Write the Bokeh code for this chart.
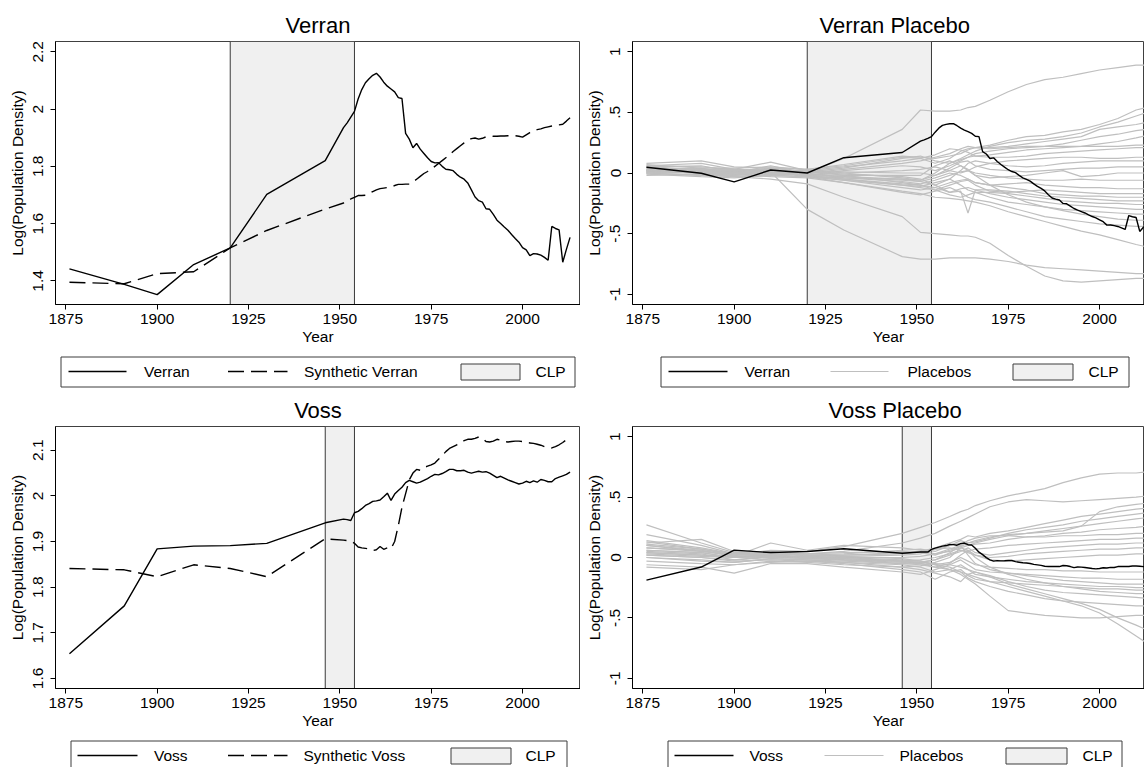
from bokeh.plotting import figure
from bokeh.models import Range1d, FixedTicker, BoxAnnotation
from bokeh.layouts import row, column
from bokeh.embed import file_html
from bokeh.resources import INLINE
from bokeh.core.properties import value

FONT = "Liberation Sans"

# ---------------------------------------------------------------- data
YEARS = [1876, 1891, 1900, 1910, 1920, 1930, 1946,
         1951, 1952, 1953, 1954, 1955, 1956, 1957, 1958, 1959, 1960,
         1961, 1962, 1963, 1964, 1965, 1966, 1967, 1968, 1969, 1970,
         1971, 1972, 1973, 1974, 1975, 1976, 1977, 1978, 1979, 1980,
         1981, 1982, 1983, 1984, 1985, 1986, 1987, 1988, 1989, 1990,
         1991, 1992, 1993, 1994, 1995, 1996, 1997, 1998, 1999, 2000,
         2001, 2002, 2003, 2004, 2005, 2006, 2007, 2008, 2009, 2010,
         2011, 2012, 2013]

VERRAN = [1.442, 1.388, 1.352, 1.457, 1.515, 1.702, 1.820,
          1.935, 1.952, 1.972, 1.992, 2.035, 2.068, 2.092, 2.106, 2.118, 2.125,
          2.112, 2.094, 2.080, 2.070, 2.060, 2.040, 2.037, 1.915, 1.895, 1.865,
          1.880, 1.860, 1.845, 1.830, 1.817, 1.812, 1.813, 1.800, 1.790, 1.788,
          1.785, 1.772, 1.762, 1.755, 1.742, 1.718, 1.693, 1.680, 1.675, 1.652,
          1.650, 1.632, 1.612, 1.600, 1.588, 1.577, 1.562, 1.548, 1.535, 1.516,
          1.508, 1.488, 1.495, 1.494, 1.490, 1.482, 1.472, 1.590, 1.583, 1.578,
          1.465, 1.510, 1.552]

SYN_VERRAN = [1.395, 1.390, 1.425, 1.432, 1.515, 1.576, 1.651,
              1.672, 1.678, 1.686, 1.692, 1.698, 1.698, 1.699, 1.705, 1.712, 1.718,
              1.722, 1.724, 1.726, 1.728, 1.733, 1.737, 1.737, 1.738, 1.738, 1.745,
              1.755, 1.765, 1.775, 1.782, 1.790, 1.800, 1.810, 1.820, 1.830, 1.840,
              1.852, 1.862, 1.872, 1.882, 1.890, 1.897, 1.899, 1.895, 1.898, 1.903,
              1.904, 1.905, 1.905, 1.906, 1.906, 1.907, 1.907, 1.907, 1.905, 1.902,
              1.910, 1.918, 1.924, 1.928, 1.931, 1.935, 1.938, 1.941, 1.944, 1.945,
              1.947, 1.958, 1.970]

VOSS = [1.654, 1.759, 1.884, 1.890, 1.891, 1.896, 1.941,
        1.949, 1.948, 1.946, 1.963, 1.966, 1.972, 1.979, 1.983, 1.988, 1.989,
        1.991, 1.998, 2.006, 1.990, 2.004, 2.012, 2.019, 2.029, 2.034, 2.031,
        2.028, 2.030, 2.034, 2.038, 2.043, 2.047, 2.046, 2.049, 2.053, 2.058,
        2.058, 2.055, 2.055, 2.056, 2.052, 2.050, 2.052, 2.054, 2.052, 2.053,
        2.050, 2.045, 2.040, 2.043, 2.039, 2.035, 2.032, 2.029, 2.026, 2.028,
        2.032, 2.029, 2.033, 2.030, 2.036, 2.034, 2.031, 2.031, 2.038, 2.041,
        2.044, 2.047, 2.052]

SYN_VOSS = [1.841, 1.838, 1.823, 1.849, 1.841, 1.823, 1.906,
            1.903, 1.902, 1.901, 1.896, 1.888, 1.886, 1.885, 1.884, 1.880, 1.882,
            1.889, 1.883, 1.886, 1.884, 1.900, 1.935, 1.975, 2.005, 2.035, 2.050,
            2.058, 2.056, 2.062, 2.065, 2.068, 2.072, 2.080, 2.088, 2.097, 2.104,
            2.108, 2.112, 2.116, 2.121, 2.124, 2.124, 2.126, 2.129, 2.127, 2.119,
            2.118, 2.120, 2.124, 2.122, 2.119, 2.118, 2.119, 2.120, 2.120, 2.119,
            2.117, 2.116, 2.115, 2.113, 2.111, 2.108, 2.106, 2.105, 2.108, 2.112,
            2.117, 2.123, 2.126]

# treated-minus-synthetic gaps shown in the placebo panels
VERRAN_GAP = [a - s for a, s in zip(VERRAN, SYN_VERRAN)]
VOSS_GAP = [a - s for a, s in zip(VOSS, SYN_VOSS)]

VERRAN_CLP = (1920, 1954)
VOSS_CLP = (1946, 1954)

# years at which the placebo gaps are recorded
PLACEBO_YEARS = [1876, 1891, 1900, 1910, 1920, 1930, 1946, 1951, 1955, 1959,
                 1962, 1964, 1966, 1970, 1975, 1980, 1985, 1990, 1995, 2000,
                 2005, 2010, 2013]

VERRAN_PLACEBOS = [
    [0.03, 0.02, 0.01, 0.03, 0.00, 0.12, 0.36, 0.52, 0.51, 0.51, 0.52, 0.54, 0.55, 0.60, 0.67, 0.73, 0.77, 0.79, 0.82, 0.85, 0.87, 0.89, 0.89],
    [0.02, 0.00, -0.02, 0.01, -0.30, -0.47, -0.69, -0.71, -0.71, -0.70, -0.70, -0.70, -0.70, -0.71, -0.73, -0.76, -0.78, -0.79, -0.80, -0.81, -0.82, -0.83, -0.83],
    [0.00, -0.02, -0.03, -0.05, -0.09, -0.20, -0.36, -0.49, -0.50, -0.51, -0.52, -0.52, -0.53, -0.58, -0.68, -0.77, -0.85, -0.89, -0.90, -0.89, -0.88, -0.87, -0.87],
    [0.01, 0.03, -0.01, 0.02, -0.03, -0.08, -0.15, -0.17, -0.20, -0.21, -0.22, -0.23, -0.24, -0.27, -0.32, -0.36, -0.40, -0.44, -0.48, -0.51, -0.55, -0.59, -0.61],
    [0.06, 0.05, 0.03, 0.02, 0.02, 0.05, 0.10, 0.12, 0.08, 0.12, 0.18, 0.20, 0.21, 0.23, 0.27, 0.30, 0.31, 0.34, 0.36, 0.40, 0.45, 0.52, 0.54],
    [0.04, 0.03, 0.02, 0.04, 0.01, 0.04, 0.12, 0.14, 0.10, 0.08, 0.12, 0.15, 0.18, 0.22, 0.25, 0.27, 0.28, 0.30, 0.33, 0.38, 0.42, 0.47, 0.50],
    [0.02, 0.04, 0.00, 0.06, 0.00, 0.03, 0.08, 0.10, 0.13, 0.16, 0.20, 0.22, 0.21, 0.21, 0.22, 0.24, 0.26, 0.28, 0.30, 0.36, 0.38, 0.40, 0.42],
    [0.05, 0.06, 0.01, 0.03, -0.02, 0.02, 0.06, 0.05, 0.02, 0.06, 0.10, 0.13, 0.16, 0.18, 0.20, 0.21, 0.22, 0.24, 0.27, 0.30, 0.32, 0.35, 0.36],
    [0.00, 0.02, 0.03, 0.00, 0.03, 0.06, 0.13, 0.12, 0.15, 0.20, 0.19, 0.17, 0.14, 0.15, 0.17, 0.19, 0.20, 0.21, 0.22, 0.24, 0.26, 0.29, 0.31],
    [0.07, 0.04, 0.04, 0.05, 0.03, 0.07, 0.14, 0.13, 0.12, 0.14, 0.16, 0.19, 0.21, 0.20, 0.21, 0.22, 0.22, 0.22, 0.22, 0.22, 0.22, 0.23, 0.23],
    [0.01, 0.00, -0.02, 0.02, -0.03, -0.04, -0.05, -0.06, 0.00, 0.08, 0.11, 0.13, 0.14, 0.13, 0.13, 0.14, 0.16, 0.17, 0.18, 0.19, 0.20, 0.21, 0.21],
    [0.03, 0.01, 0.02, 0.01, 0.00, 0.00, 0.02, 0.03, 0.05, 0.02, 0.00, 0.02, 0.05, 0.08, 0.10, 0.11, 0.12, 0.13, 0.13, 0.12, 0.12, 0.13, 0.13],
    [-0.02, -0.01, -0.03, -0.01, -0.02, -0.03, -0.05, -0.07, -0.10, -0.05, 0.02, 0.08, 0.10, 0.08, 0.06, 0.05, 0.06, 0.08, 0.09, 0.10, 0.10, 0.10, 0.10],
    [0.04, 0.03, 0.00, 0.02, 0.01, 0.01, 0.00, 0.00, -0.02, 0.04, 0.09, 0.10, 0.06, 0.03, 0.02, 0.01, 0.02, 0.03, 0.04, 0.04, 0.05, 0.05, 0.05],
    [0.02, 0.00, 0.01, -0.01, -0.01, -0.02, -0.02, -0.02, 0.06, 0.10, 0.06, 0.02, -0.02, -0.04, -0.03, -0.02, 0.00, 0.02, -0.03, -0.02, 0.00, 0.00, 0.00],
    [0.00, -0.02, -0.02, 0.00, 0.00, -0.04, -0.07, -0.09, -0.06, -0.02, 0.01, 0.02, 0.00, -0.02, -0.04, -0.05, -0.06, -0.06, -0.05, -0.06, -0.06, -0.06, -0.06],
    [0.03, 0.00, -0.01, 0.00, -0.02, -0.05, -0.09, -0.10, -0.12, -0.08, -0.06, -0.05, -0.08, -0.10, -0.09, -0.08, -0.10, -0.11, -0.12, -0.12, -0.13, -0.13, -0.13],
    [-0.01, -0.03, -0.04, -0.02, -0.03, -0.06, -0.10, -0.12, -0.14, -0.10, -0.07, -0.06, -0.10, -0.15, -0.16, -0.15, -0.14, -0.15, -0.16, -0.17, -0.17, -0.17, -0.17],
    [0.01, 0.02, -0.01, 0.01, -0.01, -0.03, -0.06, -0.07, -0.04, 0.00, -0.02, -0.05, -0.08, -0.10, -0.12, -0.14, -0.17, -0.18, -0.19, -0.19, -0.20, -0.20, -0.20],
    [0.05, 0.03, 0.02, 0.03, 0.01, -0.01, -0.03, -0.05, -0.10, -0.16, -0.13, -0.12, -0.14, -0.14, -0.15, -0.17, -0.19, -0.20, -0.21, -0.22, -0.23, -0.23, -0.23],
    [0.00, 0.00, 0.00, 0.00, -0.02, -0.05, -0.10, -0.11, -0.08, -0.05, -0.10, -0.14, -0.16, -0.16, -0.17, -0.19, -0.21, -0.23, -0.24, -0.25, -0.25, -0.26, -0.26],
    [0.02, 0.00, -0.03, -0.02, -0.03, -0.06, -0.12, -0.14, -0.12, -0.16, -0.15, -0.33, -0.14, -0.17, -0.20, -0.22, -0.24, -0.26, -0.27, -0.28, -0.29, -0.30, -0.30],
    [0.06, 0.08, 0.03, 0.09, 0.02, -0.02, -0.08, -0.10, -0.14, -0.18, -0.20, -0.18, -0.16, -0.20, -0.24, -0.26, -0.28, -0.30, -0.31, -0.32, -0.33, -0.34, -0.34],
    [0.08, 0.10, 0.05, 0.04, 0.03, 0.00, -0.04, -0.06, -0.02, 0.02, 0.06, 0.03, -0.02, -0.10, -0.18, -0.24, -0.28, -0.31, -0.34, -0.36, -0.38, -0.39, -0.39],
    [0.02, 0.01, -0.01, -0.03, -0.04, -0.08, -0.16, -0.18, -0.15, -0.12, -0.16, -0.20, -0.22, -0.24, -0.28, -0.32, -0.36, -0.38, -0.40, -0.42, -0.43, -0.44, -0.44],
]

VOSS_PLACEBOS = [
    [0.10, 0.05, 0.02, 0.06, 0.05, 0.09, 0.20, 0.25, 0.29, 0.34, 0.38, 0.40, 0.43, 0.47, 0.51, 0.54, 0.57, 0.62, 0.66, 0.69, 0.70, 0.70, 0.71],
    [0.14, 0.08, 0.03, 0.04, 0.03, 0.05, 0.12, 0.16, 0.20, 0.26, 0.30, 0.33, 0.36, 0.42, 0.46, 0.48, 0.47, 0.46, 0.47, 0.48, 0.49, 0.50, 0.51],
    [0.06, 0.04, 0.00, 0.03, 0.02, 0.03, 0.06, 0.07, 0.05, 0.10, 0.12, 0.10, 0.12, 0.15, 0.18, 0.20, 0.21, 0.22, 0.26, 0.38, 0.42, 0.44, 0.45],
    [0.27, 0.12, 0.04, 0.05, 0.01, 0.02, 0.04, 0.05, 0.08, 0.12, 0.15, 0.18, 0.17, 0.20, 0.22, 0.25, 0.28, 0.31, 0.34, 0.36, 0.38, 0.40, 0.41],
    [0.19, 0.10, 0.03, 0.02, 0.00, 0.01, 0.02, 0.03, 0.07, 0.10, 0.14, 0.12, 0.13, 0.16, 0.20, 0.23, 0.25, 0.27, 0.30, 0.32, 0.34, 0.36, 0.37],
    [0.12, 0.15, 0.05, 0.04, 0.03, 0.04, 0.05, 0.04, 0.02, 0.06, 0.09, 0.12, 0.14, 0.17, 0.19, 0.20, 0.22, 0.24, 0.26, 0.28, 0.30, 0.32, 0.33],
    [0.08, 0.06, 0.01, 0.12, 0.06, 0.10, 0.08, 0.06, 0.03, 0.05, 0.08, 0.10, 0.11, 0.12, 0.15, 0.17, 0.18, 0.20, 0.21, 0.23, 0.24, 0.25, 0.26],
    [0.04, 0.02, 0.00, 0.01, 0.00, 0.00, 0.00, 0.01, 0.03, 0.07, 0.10, 0.14, 0.16, 0.18, 0.18, 0.17, 0.17, 0.18, 0.18, 0.19, 0.19, 0.20, 0.20],
    [0.02, 0.00, -0.02, 0.00, -0.01, -0.02, -0.03, -0.02, 0.00, 0.03, 0.06, 0.05, 0.07, 0.08, 0.10, 0.11, 0.12, 0.13, 0.14, 0.15, 0.15, 0.16, 0.16],
    [0.00, -0.03, -0.04, -0.01, -0.02, -0.03, -0.05, -0.04, -0.02, 0.02, 0.05, 0.08, 0.04, 0.02, 0.04, 0.06, 0.08, 0.09, 0.10, 0.11, 0.11, 0.12, 0.12],
    [0.13, 0.07, 0.02, 0.03, 0.02, 0.02, 0.03, 0.05, 0.07, 0.08, 0.06, 0.04, 0.02, 0.00, 0.01, 0.03, 0.04, 0.05, 0.06, 0.07, 0.07, 0.08, 0.08],
    [-0.03, -0.05, -0.06, -0.03, -0.04, -0.06, -0.08, -0.07, -0.04, 0.00, 0.08, 0.06, 0.02, -0.02, -0.03, -0.02, -0.01, 0.00, 0.01, 0.02, 0.02, 0.03, 0.03],
    [0.05, 0.03, -0.02, 0.01, -0.01, -0.02, -0.04, -0.05, -0.06, -0.04, 0.00, -0.03, -0.06, -0.08, -0.09, -0.10, -0.10, -0.11, -0.11, -0.12, -0.12, -0.12, -0.12],
    [-0.06, -0.08, -0.13, -0.05, -0.05, -0.08, -0.12, -0.14, -0.10, -0.06, -0.02, -0.06, -0.10, -0.12, -0.13, -0.14, -0.15, -0.16, -0.17, -0.17, -0.18, -0.18, -0.18],
    [0.10, 0.06, 0.01, 0.02, 0.00, -0.01, -0.03, -0.04, -0.02, 0.04, 0.10, 0.02, -0.05, -0.10, -0.13, -0.15, -0.17, -0.19, -0.20, -0.21, -0.22, -0.22, -0.22],
    [0.02, 0.00, -0.03, -0.02, -0.03, -0.04, -0.06, -0.08, -0.12, -0.10, -0.06, -0.10, -0.14, -0.16, -0.18, -0.20, -0.21, -0.22, -0.23, -0.24, -0.24, -0.25, -0.25],
    [-0.08, -0.10, -0.06, -0.04, -0.03, -0.05, -0.10, -0.12, -0.18, -0.12, -0.10, -0.15, -0.18, -0.20, -0.21, -0.22, -0.23, -0.24, -0.25, -0.26, -0.26, -0.27, -0.27],
    [0.06, 0.04, 0.00, 0.01, 0.00, -0.02, -0.05, -0.06, -0.08, -0.05, 0.02, 0.06, 0.00, -0.08, -0.14, -0.18, -0.21, -0.24, -0.26, -0.28, -0.29, -0.30, -0.30],
    [0.00, -0.02, -0.04, -0.01, -0.02, -0.04, -0.08, -0.10, -0.13, -0.16, -0.20, -0.14, -0.12, -0.15, -0.20, -0.24, -0.27, -0.29, -0.30, -0.31, -0.32, -0.33, -0.34],
    [0.04, 0.02, 0.01, 0.00, 0.01, 0.00, -0.02, -0.03, -0.06, -0.08, -0.12, -0.17, -0.20, -0.24, -0.28, -0.31, -0.34, -0.36, -0.37, -0.38, -0.39, -0.40, -0.40],
    [0.08, 0.05, 0.02, 0.02, 0.01, 0.00, -0.03, -0.05, -0.08, -0.10, -0.14, -0.18, -0.22, -0.32, -0.44, -0.46, -0.48, -0.49, -0.50, -0.50, -0.49, -0.48, -0.48],
    [0.03, 0.01, 0.00, 0.01, 0.00, -0.01, -0.03, -0.04, -0.05, -0.06, -0.08, -0.10, -0.12, -0.16, -0.22, -0.26, -0.30, -0.34, -0.38, -0.43, -0.50, -0.56, -0.60],
    [0.11, 0.07, 0.03, 0.03, 0.02, 0.01, -0.01, -0.03, -0.06, -0.10, -0.12, -0.14, -0.16, -0.20, -0.24, -0.28, -0.32, -0.36, -0.40, -0.46, -0.55, -0.65, -0.71],
]

X_TICKS = [1875, 1900, 1925, 1950, 1975, 2000]
VERRAN_TICKS = [1.4, 1.6, 1.8, 2.0, 2.2]
VERRAN_TICK_LABELS = ["1.4", "1.6", "1.8", "2", "2.2"]
VOSS_TICKS = [1.6, 1.7, 1.8, 1.9, 2.0, 2.1]
VOSS_TICK_LABELS = ["1.6", "1.7", "1.8", "1.9", "2", "2.1"]
GAP_TICKS = [-1.0, -0.5, 0.0, 0.5, 1.0]
GAP_TICK_LABELS = ["-1", "-.5", "0", ".5", "1"]

# ---------------------------------------------------------------- styling
GRAY = "#bfbfbf"
CLP_FILL = "#f0f0f0"
EDGE = "#3a3a3a"
DASH = "16 7"

LEFT_W, RIGHT_W = 580, 564
LEFT_BORDERS = (55, 0)      # frame spans 55..580 of the page
RIGHT_BORDERS = (52, 0)     # frame spans 632..1144 of the page
TOP_H, TOP_LEG_H, BOT_H, BOT_LEG_H = 350, 42, 343, 32


def panel(title, width, height, x_end, y_range, ticks, tick_labels,
          borders, border_top, border_bottom, title_offset=None):
    p = figure(width=width, height=height,
               x_range=Range1d(1872.18, x_end), y_range=Range1d(*y_range),
               output_backend="svg", toolbar_location=None,
               min_border_left=borders[0], min_border_right=borders[1],
               min_border_top=border_top, min_border_bottom=border_bottom,
               background_fill_color="white", border_fill_color="white")
    p.title.text = title
    if title_offset is None:
        p.title.align = "center"
    else:
        p.title.align = "left"
        p.title.offset = title_offset
    p.title.text_font = FONT
    p.title.text_font_size = "22px"
    p.title.text_font_style = "normal"
    p.title.text_color = "black"
    p.title.standoff = 7
    p.xgrid.visible = False
    p.ygrid.visible = False
    p.outline_line_color = "#404040"
    p.outline_line_width = 1

    p.xaxis.ticker = FixedTicker(ticks=X_TICKS)
    p.xaxis.axis_label = "Year"
    p.yaxis.ticker = FixedTicker(ticks=ticks)
    p.yaxis.major_label_overrides = {t: s for t, s in zip(ticks, tick_labels)}
    p.yaxis.axis_label = "Log(Population Density)"
    p.yaxis.major_label_orientation = "vertical"
    for ax in (p.xaxis[0], p.yaxis[0]):
        ax.axis_line_color = "black"
        ax.axis_line_width = 1
        ax.major_tick_line_color = "black"
        ax.major_tick_in = 0
        ax.major_tick_out = 5
        ax.minor_tick_line_color = None
        ax.major_label_text_font = FONT
        ax.major_label_text_font_size = "15.5px"
        ax.major_label_text_color = "black"
        ax.axis_label_text_font = FONT
        ax.axis_label_text_font_size = "15.5px"
        ax.axis_label_text_font_style = "normal"
        ax.axis_label_text_color = "black"
    p.xaxis.major_label_standoff = 4
    p.xaxis.axis_label_standoff = 1
    p.yaxis.major_label_standoff = 7
    p.yaxis.axis_label_standoff = 5
    return p


def clp_band(p, span):
    p.add_layout(BoxAnnotation(left=span[0], right=span[1],
                               fill_color=CLP_FILL, fill_alpha=1.0,
                               line_color=EDGE, line_width=1, line_alpha=1.0,
                               level="underlay"))


def legend_strip(width, height, borders, page_x, box, items):
    """Legend row drawn in page pixel coordinates.
    box = (x0, x1, y0, y1); items = list of (kind, spec)."""
    lf = figure(width=width, height=height,
                x_range=Range1d(*page_x), y_range=Range1d(height, 0),
                output_backend="svg", toolbar_location=None,
                x_axis_location=None, y_axis_location=None,
                min_border_left=borders[0], min_border_right=borders[1],
                min_border_top=0, min_border_bottom=0,
                border_fill_color="white")
    lf.grid.visible = False
    lf.outline_line_color = None
    x0, x1, y0, y1 = box
    lf.quad(left=[x0], right=[x1], top=[y0], bottom=[y1],
            fill_color=None, line_color="#3c3c3c", line_width=1)
    for kind, spec in items:
        if kind == "line":
            a, b, y, color, dash, w = spec
            lf.line([a, b], [y, y], line_color=color, line_width=w, line_dash=dash)
        elif kind == "swatch":
            a, b, t, u = spec
            lf.quad(left=[a], right=[b], top=[t], bottom=[u],
                    fill_color=CLP_FILL, line_color="#3c3c3c", line_width=1)
        else:
            x, y, s = spec
            lf.text(x=[x], y=[y], text=[s], text_font=value(FONT),
                    text_font_size="15.5px", text_baseline="middle",
                    text_align="left", text_color="black")
    return lf


# ---------------------------------------------------------------- panels
verran = panel("Verran", LEFT_W, TOP_H, 2015.86, (1.3175, 2.236),
               VERRAN_TICKS, VERRAN_TICK_LABELS, LEFT_BORDERS, 41, 46)
clp_band(verran, VERRAN_CLP)
verran.line(YEARS, SYN_VERRAN, line_color="black", line_width=1.4, line_dash=DASH)
verran.line(YEARS, VERRAN, line_color="black", line_width=1.4)

verran_pl = panel("Verran Placebo", RIGHT_W, TOP_H, 2012.30, (-1.085, 1.085),
                  GAP_TICKS, GAP_TICK_LABELS, RIGHT_BORDERS, 41, 46, title_offset=187)
clp_band(verran_pl, VERRAN_CLP)
verran_pl.multi_line(xs=[PLACEBO_YEARS] * len(VERRAN_PLACEBOS), ys=VERRAN_PLACEBOS,
                     line_color=GRAY, line_width=1.2)
verran_pl.line(YEARS, VERRAN_GAP, line_color="black", line_width=1.4)

voss = panel("Voss", LEFT_W, BOT_H, 2015.86, (1.578, 2.152),
             VOSS_TICKS, VOSS_TICK_LABELS, LEFT_BORDERS, 32, 47)
clp_band(voss, VOSS_CLP)
voss.line(YEARS, SYN_VOSS, line_color="black", line_width=1.4, line_dash=DASH)
voss.line(YEARS, VOSS, line_color="black", line_width=1.4)

voss_pl = panel("Voss Placebo", RIGHT_W, BOT_H, 2012.30, (-1.085, 1.085),
                GAP_TICKS, GAP_TICK_LABELS, RIGHT_BORDERS, 32, 47, title_offset=196)
clp_band(voss_pl, VOSS_CLP)
voss_pl.multi_line(xs=[PLACEBO_YEARS] * len(VOSS_PLACEBOS), ys=VOSS_PLACEBOS,
                   line_color=GRAY, line_width=1.2)
voss_pl.line(YEARS, VOSS_GAP, line_color="black", line_width=1.4)

# ---------------------------------------------------------------- legends
leg_verran = legend_strip(LEFT_W, TOP_LEG_H, LEFT_BORDERS, (55, 580),
                          (60.5, 574.5, 6.5, 36.5), [
    ("line", (68, 126, 21, "black", "solid", 1.4)),
    ("text", (143.5, 21, "Verran")),
    ("line", (227.5, 287, 21, "black", DASH, 1.4)),
    ("text", (303.5, 21, "Synthetic Verran")),
    ("swatch", (460.5, 519.5, 13.5, 29.5)),
    ("text", (535, 21, "CLP")),
])
leg_verran_pl = legend_strip(RIGHT_W, TOP_LEG_H, RIGHT_BORDERS, (632, 1144),
                             (660.5, 1128.5, 6.5, 36.5), [
    ("line", (668, 727, 21, "black", "solid", 1.4)),
    ("text", (744, 21, "Verran")),
    ("line", (830, 888, 21, GRAY, "solid", 1.2)),
    ("text", (907, 21, "Placebos")),
    ("swatch", (1012.5, 1072.5, 13.5, 29.5)),
    ("text", (1088, 21, "CLP")),
])
leg_voss = legend_strip(LEFT_W, BOT_LEG_H, LEFT_BORDERS, (55, 580),
                        (70.5, 566.5, 5.5, 35.5), [
    ("line", (77, 137, 20, "black", "solid", 1.4)),
    ("text", (153.5, 20, "Voss")),
    ("line", (227.5, 287, 20, "black", DASH, 1.4)),
    ("text", (303, 20, "Synthetic Voss")),
    ("swatch", (450.5, 510.5, 12.5, 28.5)),
    ("text", (525, 20, "CLP")),
])
leg_voss_pl = legend_strip(RIGHT_W, BOT_LEG_H, RIGHT_BORDERS, (632, 1144),
                           (667.5, 1121.5, 5.5, 35.5), [
    ("line", (674, 733, 20, "black", "solid", 1.4)),
    ("text", (749, 20, "Voss")),
    ("line", (824, 883, 20, GRAY, "solid", 1.2)),
    ("text", (899, 20, "Placebos")),
    ("swatch", (1005.5, 1066.5, 12.5, 28.5)),
    ("text", (1082, 20, "CLP")),
])

layout = row(
    column(verran, leg_verran, voss, leg_voss),
    column(verran_pl, leg_verran_pl, voss_pl, leg_voss_pl),
)

with open("out.html", "w") as fh:
    fh.write(file_html(layout, INLINE, title="Verran and Voss"))
